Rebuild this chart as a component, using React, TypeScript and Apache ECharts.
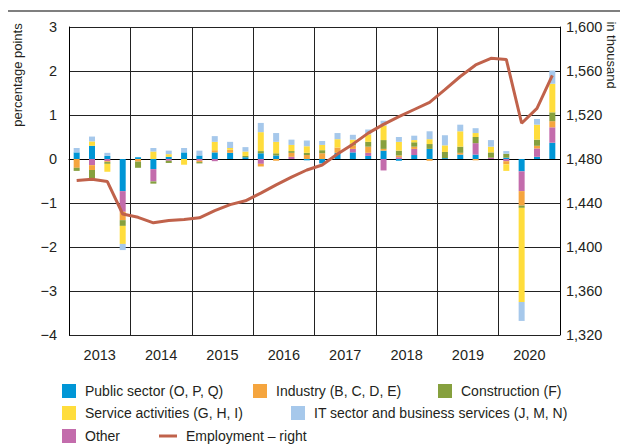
import React, { useEffect, useRef } from 'react';
import * as echarts from 'echarts';

const years = ['2013', '2014', '2015', '2016', '2017', '2018', '2019', '2020'];
const quarters = years.flatMap((y) => ['Q1', 'Q2', 'Q3', 'Q4'].map((q) => `${y} ${q}`));

// contributions, percentage points
const publicSector = [
  0.15, 0.3, 0.07, -0.73,
  0.04, -0.23, 0.05, 0.15,
  0.08, 0.15, 0.14, 0.04,
  0.13, 0.08, 0, -0.03,
  -0.1, 0.14, 0.15, 0.07,
  0.19, -0.04, 0.09, 0.23,
  0.02, 0.1, 0.1, 0,
  0.03, -0.28, 0.05, 0.37,
];
const other = [
  0, -0.14, -0.05, -0.47,
  0, -0.28, -0.04, 0,
  -0.04, -0.05, 0, 0,
  -0.11, 0, 0.05, 0,
  0, 0, 0.08, 0.07,
  -0.26, 0.04, 0.14, 0,
  0, 0, 0.26, 0.03,
  -0.05, -0.45, 0.19, 0.35,
];
const industry = [
  -0.2, -0.11, -0.02, -0.19,
  -0.06, 0, 0, 0,
  -0.03, 0.05, 0.07, 0,
  -0.06, -0.04, 0.09, 0.09,
  0.13, 0.12, 0.08, 0.14,
  0.04, 0.04, 0.05, -0.04,
  0, 0.04, -0.03, 0,
  -0.07, -0.33, 0.06, 0.14,
];
const construction = [
  -0.07, -0.2, -0.04, -0.13,
  -0.14, -0.05, -0.05, 0,
  -0.03, 0, 0, 0.03,
  0.05, 0.05, 0.04, 0.05,
  0.07, 0, 0.04, 0.11,
  0.2, 0.11, 0.1, 0.11,
  0.14, 0.14, 0.14, 0.12,
  0.09, -0.05, 0.14, 0.2,
];
const services = [
  0, 0.1, -0.18, -0.41,
  0, 0.17, 0.06, -0.13,
  0, 0.19, 0.04, 0.1,
  0.43, 0.26, 0.14, 0.15,
  0.12, 0.19, 0.09, 0.17,
  0.33, 0.2, 0.05, 0.11,
  0.15, 0.35, 0.09, 0.13,
  -0.15, -2.14, 0.34, 0.65,
];
const itSector = [
  0.1, 0.11, 0.07, -0.14,
  0, 0.08, 0.08, 0.1,
  0.11, 0.13, 0.14, 0.1,
  0.21, 0.2, 0.12, 0.13,
  0.09, 0.14, 0.11, 0.11,
  0.11, 0.11, 0.1, 0.18,
  0.23, 0.15, 0.11, 0.15,
  0.06, -0.43, 0.13, 0.3,
];
// employment, thousand (right axis)
const employment = [
  1460.5, 1461.5, 1459.5, 1430,
  1427, 1422, 1424, 1425,
  1426.5, 1433, 1438.5, 1442,
  1449, 1456.5, 1463.5, 1470,
  1474.5, 1484.5, 1493.5, 1503.5,
  1511.5, 1518.5, 1525, 1531.5,
  1543, 1555, 1565.5, 1571.5,
  1570.5, 1512.5, 1526, 1556,
];

const FONT = "'Liberation Sans', Arial, Helvetica, sans-serif";
const TXT = '#231f20';
const LINE_COLOR = '#C0624B';

const barDefs = [
  { name: 'Public sector (O, P, Q)', data: publicSector, color: '#0096D6' },
  { name: 'Other', data: other, color: '#C36CAC' },
  { name: 'Industry (B, C, D, E)', data: industry, color: '#F5A53E' },
  { name: 'Construction (F)', data: construction, color: '#86A03E' },
  { name: 'Service activities (G, H, I)', data: services, color: '#FFDD3C' },
  { name: 'IT sector and business services (J, M, N)', data: itSector, color: '#A6C8EB' },
];
const lineName = 'Employment \u2013 right';

const legendPos = [
  { name: 'Public sector (O, P, Q)', left: 62, top: 384 },
  { name: 'Industry (B, C, D, E)', left: 253, top: 384 },
  { name: 'Construction (F)', left: 438, top: 384 },
  { name: 'Service activities (G, H, I)', left: 62, top: 406 },
  { name: 'IT sector and business services (J, M, N)', left: 291, top: 406 },
  { name: 'Other', left: 62, top: 429 },
  { name: lineName, left: 159, top: 429 },
];

export default function App() {
  const ref = useRef<HTMLDivElement>(null);
  useEffect(() => {
    const chart = echarts.init(ref.current!, null, { renderer: 'svg' });
    const option: any = {
      animation: false,
      backgroundColor: '#fff',
      textStyle: { fontFamily: FONT },
      grid: { left: 69, right: 60, top: 27, bottom: 110, containLabel: false },
      legend: legendPos.map((l) => ({
        data: [l.name],
        left: l.left,
        top: l.top,
        padding: 0,
        itemWidth: l.name === lineName ? 18 : 14,
        itemHeight: 14,
        icon: l.name === lineName ? 'path://M0,0L30,0L30,5L0,5Z' : 'rect',
        selectedMode: false,
        textStyle: { fontFamily: FONT, fontSize: 14, color: TXT, lineHeight: 14, padding: [0, 0, 0, 4] },
      })),
      xAxis: [
        {
          type: 'category',
          data: quarters,
          position: 'bottom',
          boundaryGap: true,
          axisLine: { show: true, lineStyle: { color: '#000', width: 1 } },
          axisTick: { show: false },
          axisLabel: { show: false },
          splitLine: { show: true, interval: 3, lineStyle: { color: '#222', width: 1 } },
        },
        {
          type: 'category',
          data: years,
          position: 'bottom',
          boundaryGap: true,
          axisLine: { show: false },
          axisTick: { show: false },
          splitLine: { show: false },
          axisLabel: { fontSize: 14.5, color: TXT, margin: 12, fontFamily: FONT },
        },
      ],
      yAxis: [
        {
          type: 'value',
          min: -4,
          max: 3,
          interval: 1,
          position: 'left',
          axisLine: { show: true, lineStyle: { color: '#000', width: 1 } },
          axisTick: { show: false },
          axisLabel: {
            fontSize: 14.5,
            color: TXT,
            margin: 12,
            fontFamily: FONT,
            formatter: (v: number) => String(v).replace('-', '\u2212'),
          },
          splitLine: { show: true, lineStyle: { color: '#222', width: 1 } },
        },
        {
          type: 'value',
          min: 1320,
          max: 1600,
          interval: 40,
          position: 'right',
          axisLine: { show: true, lineStyle: { color: '#000', width: 1 } },
          axisTick: { show: false },
          axisLabel: {
            fontSize: 14.5,
            color: TXT,
            margin: 6,
            fontFamily: FONT,
            formatter: (v: number) => v.toLocaleString('en-US'),
          },
          splitLine: { show: false },
        },
      ],
      series: [
        ...barDefs.map((b) => ({
          name: b.name,
          type: 'bar',
          stack: 'total',
          xAxisIndex: 0,
          yAxisIndex: 0,
          barWidth: 6,
          data: b.data,
          itemStyle: { color: b.color },
          color: b.color,
        })),
        {
          name: lineName,
          type: 'line',
          xAxisIndex: 0,
          yAxisIndex: 1,
          data: employment,
          symbol: 'none',
          lineStyle: { color: LINE_COLOR, width: 3 },
          itemStyle: { color: LINE_COLOR },
          color: LINE_COLOR,
          z: 5,
        },
      ],
      graphic: [
        {
          type: 'line',
          shape: { x1: 8, y1: 11, x2: 620, y2: 11 },
          style: { stroke: '#555', lineWidth: 1.5 },
        },
        {
          type: 'text',
          x: 17,
          y: 75,
          rotation: Math.PI / 2,
          style: {
            text: 'percentage points',
            fontSize: 13,
            fontFamily: FONT,
            fill: TXT,
            align: 'center',
            verticalAlign: 'middle',
            textAlign: 'center',
            textVerticalAlign: 'middle',
          },
        },
        {
          type: 'text',
          x: 611,
          y: 55,
          rotation: -Math.PI / 2,
          style: {
            text: 'in thousand',
            fontSize: 13,
            fontFamily: FONT,
            fill: TXT,
            align: 'center',
            verticalAlign: 'middle',
            textAlign: 'center',
            textVerticalAlign: 'middle',
          },
        },
      ],
    };
    chart.setOption(option);
    return () => chart.dispose();
  }, []);
  return (
    <div
      ref={ref}
      style={{ position: 'fixed', left: 0, top: 0, width: 620, height: 445, background: '#fff' }}
    />
  );
}
